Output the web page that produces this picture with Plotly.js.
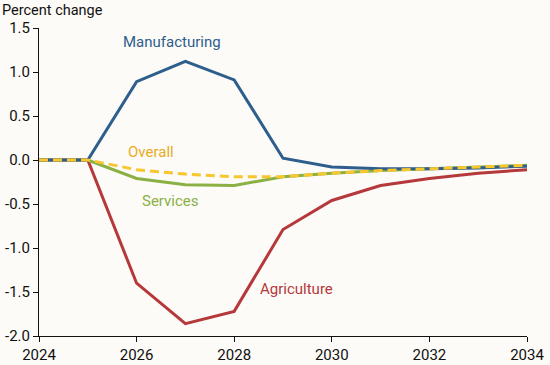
<!DOCTYPE html>
<html><head><meta charset="utf-8">
<script src="https://cdn.plot.ly/plotly-3.0.1.min.js"></script>
<style>html,body{margin:0;padding:0;background:#fcfbf8;}#c{width:550px;height:365px;}</style>
</head><body><div id="c"></div>
<script>
const years = [2024, 2025, 2026, 2027, 2028, 2029, 2030, 2031, 2032, 2033, 2034];
const manufacturing = [0, 0, 0.89, 1.12, 0.91, 0.02, -0.08, -0.10, -0.10, -0.09, -0.07];
const agriculture = [0, 0, -1.40, -1.86, -1.72, -0.79, -0.46, -0.29, -0.21, -0.15, -0.11];
const services = [0, 0, -0.21, -0.28, -0.29, -0.19, -0.15, -0.12, -0.10, -0.08, -0.06];
const overall = [0, 0, -0.11, -0.16, -0.19, -0.19, -0.15, -0.12, -0.10, -0.08, -0.06];
const yTickVals = [1.5, 1.0, 0.5, 0.0, -0.5, -1.0, -1.5, -2.0];
const yTickText = ["1.5", "1.0", "0.5", "0.0", "-0.5", "-1.0", "-1.5", "-2.0"];
const xTickVals = [2024, 2026, 2028, 2030, 2032, 2034];

const colors = {man: "#2e5e8c", agr: "#b5383a", ser: "#8bb043", ov: "#f8c62e"};
const traces = [
  {x: years, y: agriculture, name: "Agriculture", mode: "lines", line: {color: colors.agr, width: 3}},
  {x: years, y: services, name: "Services", mode: "lines", line: {color: colors.ser, width: 3}},
  {x: years, y: manufacturing, name: "Manufacturing", mode: "lines", line: {color: colors.man, width: 3}},
  {x: years, y: overall, name: "Overall", mode: "lines", line: {color: colors.ov, width: 3, dash: "9px,5px"}}
];
const font = {family: "Roboto, sans-serif", size: 15, color: "#111"};
const lab = (c) => ({family: "Roboto, sans-serif", size: 15, color: c});
const layout = {
  width: 550, height: 365,
  margin: {l: 39, r: 23, t: 28, b: 29},
  paper_bgcolor: "#fcfbf8", plot_bgcolor: "#fcfbf8",
  showlegend: false,
  font: font,
  xaxis: {range: [2024, 2034], tickvals: xTickVals, ticks: "outside", ticklen: 5, tickcolor: "#111",
          showline: true, linecolor: "#111", linewidth: 1, showgrid: false, zeroline: false,
          tickfont: font},
  yaxis: {range: [-2, 1.5], tickvals: yTickVals, ticktext: yTickText, ticks: "outside", ticklen: 5, tickcolor: "#111",
          showline: true, linecolor: "#111", linewidth: 1, showgrid: false, zeroline: false,
          tickfont: font},
  annotations: [
    {text: "Percent change", xref: "paper", yref: "paper", x: 0, y: 1, xshift: -39, yshift: 18, xanchor: "left", yanchor: "middle", showarrow: false, font: {family: "Roboto, sans-serif", size: 14.5, color: "#111"}},
    {text: "Manufacturing", x: 2026.72, y: 1.34, xanchor: "center", yanchor: "middle", showarrow: false, font: lab(colors.man)},
    {text: "Overall", x: 2026.3, y: 0.09, xanchor: "center", yanchor: "middle", showarrow: false, font: lab("#e8ac22")},
    {text: "Services", x: 2026.7, y: -0.47, xanchor: "center", yanchor: "middle", showarrow: false, font: lab(colors.ser)},
    {text: "Agriculture", x: 2029.27, y: -1.47, xanchor: "center", yanchor: "middle", showarrow: false, font: lab(colors.agr)}
  ]
};
Plotly.newPlot("c", traces, layout, {displayModeBar: false, staticPlot: true});
</script></body></html>
